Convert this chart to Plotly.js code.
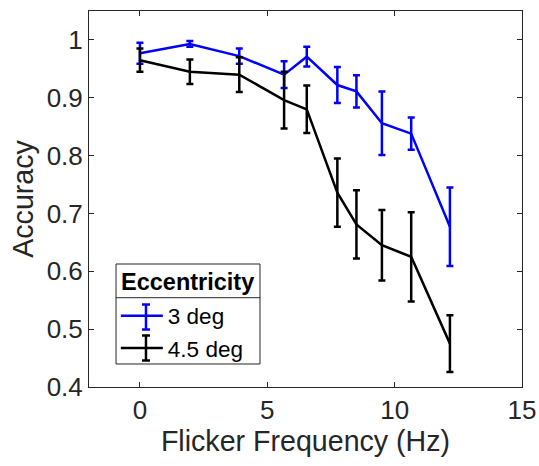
<!DOCTYPE html>
<html>
<head>
<meta charset="utf-8">
<script src="https://cdn.plot.ly/plotly-3.0.1.min.js"></script>
<style>html,body{margin:0;padding:0;background:#fff;}#chart{width:539px;height:466px;}</style>
</head>
<body>
<div id="chart"></div>
<script>
const freq = [0, 1.96, 3.9, 5.66, 6.55, 7.75, 8.5, 9.5, 10.65, 12.17];
const acc3 = [0.977, 0.993, 0.972, 0.940, 0.971, 0.922, 0.911, 0.856, 0.838, 0.677];
const err3 = [0.018, 0.005, 0.013, 0.023, 0.017, 0.031, 0.028, 0.055, 0.028, 0.068];
const acc45 = [0.965, 0.945, 0.940, 0.896, 0.880, 0.736, 0.681, 0.645, 0.625, 0.475];
const err45 = [0.020, 0.021, 0.030, 0.049, 0.041, 0.059, 0.059, 0.061, 0.077, 0.049];
const seriesNames = ['3 deg', '4.5 deg'];
const seriesColors = ['#0000ff', '#000000'];
const legendTitle = 'Eccentricity';
const xTicks = [0, 5, 10, 15];
const yTicks = [0.4, 0.5, 0.6, 0.7, 0.8, 0.9, 1];
const yTickText = ['0.4', '0.5', '0.6', '0.7', '0.8', '0.9', '1'];

const FONT = 'Liberation Sans, Arial, sans-serif';
const AX = '#262626';

const traces = [
  {x: freq, y: acc3, name: seriesNames[0], type: 'scatter', mode: 'lines',
   line: {color: seriesColors[0], width: 2.5},
   error_y: {type: 'data', array: err3, visible: true, color: seriesColors[0], thickness: 2.5, width: 3.5}},
  {x: freq, y: acc45, name: seriesNames[1], type: 'scatter', mode: 'lines',
   line: {color: seriesColors[1], width: 2.5},
   error_y: {type: 'data', array: err45, visible: true, color: seriesColors[1], thickness: 2.5, width: 3.5}}
];

// legend frame, separator and error-bar glyphs (paper coords)
const box = {x0: 0.0624, x1: 0.3949, y0: 0.0612, y1: 0.3271, sep: 0.2375};
const legX = 0.1316, capHalf = 0.0092;
const legBars = [[0.2194, 0.1529], [0.1370, 0.0705]];
const shapes = [
  {type: 'rect', xref: 'paper', yref: 'paper', x0: box.x0, x1: box.x1, y0: box.y0, y1: box.y1,
   line: {color: AX, width: 1}, fillcolor: 'rgba(0,0,0,0)', layer: 'above'},
  {type: 'line', xref: 'paper', yref: 'paper', x0: box.x0, x1: box.x1, y0: box.sep, y1: box.sep,
   line: {color: AX, width: 1}, layer: 'above'}
];
legBars.forEach((b, i) => {
  const c = seriesColors[i];
  shapes.push({type: 'line', xref: 'paper', yref: 'paper', x0: legX, x1: legX, y0: b[0], y1: b[1], line: {color: c, width: 2.5}});
  shapes.push({type: 'line', xref: 'paper', yref: 'paper', x0: legX - capHalf, x1: legX + capHalf, y0: b[0], y1: b[0], line: {color: c, width: 2.5}});
  shapes.push({type: 'line', xref: 'paper', yref: 'paper', x0: legX - capHalf, x1: legX + capHalf, y0: b[1], y1: b[1], line: {color: c, width: 2.5}});
});

const layout = {
  width: 539, height: 466,
  margin: {l: 89, r: 17, t: 11, b: 79},
  paper_bgcolor: '#fff', plot_bgcolor: '#fff',
  font: {family: FONT, color: AX, size: 26},
  showlegend: true,
  xaxis: {
    range: [-2, 15], tickvals: xTicks, ticktext: xTicks.map(String),
    ticks: 'inside', ticklen: 5, tickcolor: AX, tickwidth: 1,
    showline: true, linecolor: AX, linewidth: 1, mirror: 'ticks',
    showgrid: false, zeroline: false,
    tickfont: {size: 26, color: AX, family: FONT},
    title: {text: 'Flicker Frequency (Hz)', font: {size: 28.6, color: AX, family: FONT}, standoff: 4}
  },
  yaxis: {
    range: [0.4, 1.05], tickvals: yTicks, ticktext: yTickText,
    ticks: 'inside', ticklen: 5, tickcolor: AX, tickwidth: 1,
    showline: true, linecolor: AX, linewidth: 1, mirror: 'ticks',
    showgrid: false, zeroline: false,
    tickfont: {size: 26, color: AX, family: FONT},
    title: {text: 'Accuracy', font: {size: 28.6, color: AX, family: FONT}, standoff: 4}
  },
  legend: {
    x: 0.062, y: 0.246, xanchor: 'left', yanchor: 'top',
    bgcolor: 'rgba(0,0,0,0)', borderwidth: 0,
    font: {size: 22.5, color: '#000', family: FONT},
    tracegroupgap: 0, itemwidth: 42
  },
  annotations: [
    {text: '<b>' + legendTitle + '</b>', xref: 'paper', yref: 'paper', x: 0.2286, y: 0.2793,
     xanchor: 'center', yanchor: 'middle', showarrow: false,
     font: {size: 23.5, color: '#000', family: FONT}}
  ],
  shapes: shapes
};

Plotly.newPlot('chart', traces, layout, {displayModeBar: false, staticPlot: true});
</script>
</body>
</html>
